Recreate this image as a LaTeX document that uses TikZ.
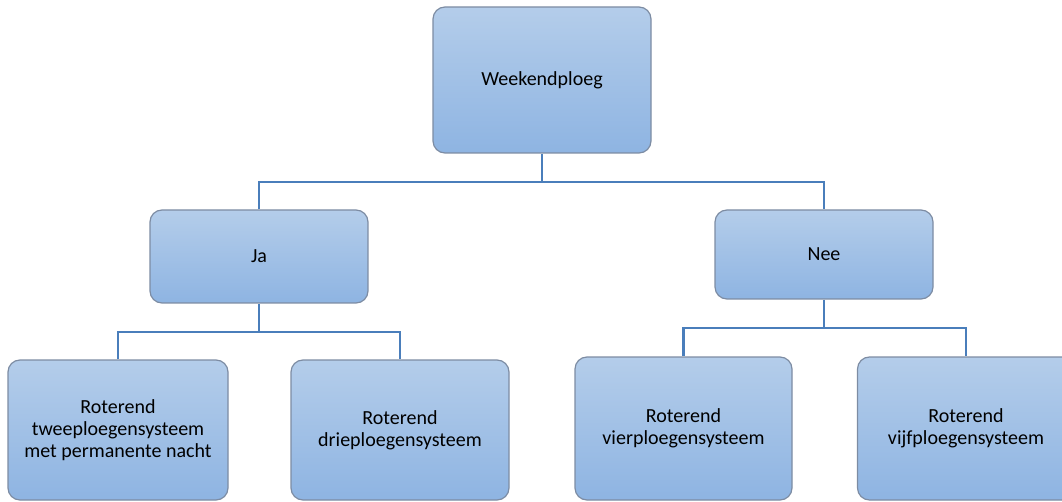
\documentclass[tikz,border=0pt]{standalone}
\usepackage{fontspec}
\setmainfont{Carlito}
\definecolor{boxtop}{HTML}{B4CDEA}
\definecolor{boxbot}{HTML}{8EB4E2}
\definecolor{boxedge}{HTML}{7D8CA3}
\definecolor{linkcol}{HTML}{4A7EBB}
\tikzset{
  orgbox/.style={draw=boxedge, line width=1.2pt, rounded corners=12pt,
    top color=boxtop, bottom color=boxbot, align=center,
    font=\fontsize{20pt}{21.8pt}\selectfont, inner sep=0pt},
  link/.style={draw=linkcol, line width=2.8pt}
}
\begin{document}
\begin{tikzpicture}[x=1pt,y=-1pt]
\useasboundingbox (0,0) rectangle (1062,502);
\node[orgbox, minimum width=218pt, minimum height=146pt] (top) at (542,80) {Weekendploeg};
\node[orgbox, minimum width=218pt, minimum height=93pt] (ja) at (259,256.5) {Ja};
\node[orgbox, minimum width=218pt, minimum height=89pt] (nee) at (824,254.5) {Nee};
\node[orgbox, minimum width=220pt, minimum height=140pt] (b1) at (118,430) {Roterend\\tweeploegensysteem\\met permanente nacht};
\node[orgbox, minimum width=218pt, minimum height=140pt] (b2) at (400,430) {Roterend\\drieploegensysteem};
\node[orgbox, minimum width=217pt, minimum height=143pt] (b3) at (683.5,428.5) {Roterend\\vierploegensysteem};
\node[orgbox, minimum width=217pt, minimum height=143pt] (b4) at (966,428.5) {Roterend\\vijfploegensysteem};
\coordinate (j1) at (542,182);
\coordinate (j2) at (259,332);
\coordinate (j3) at (824,328);
\draw[link] (top.south) -- (j1);
\draw[link] (ja.north) |- (j1) -| (nee.north);
\draw[link] (ja.south) -- (j2);
\draw[link] (b1.north) |- (j2) -| (b2.north);
\draw[link] (nee.south) -- (j3);
\draw[link] (b3.north) |- (j3) -| (b4.north);
\end{tikzpicture}
\end{document}
